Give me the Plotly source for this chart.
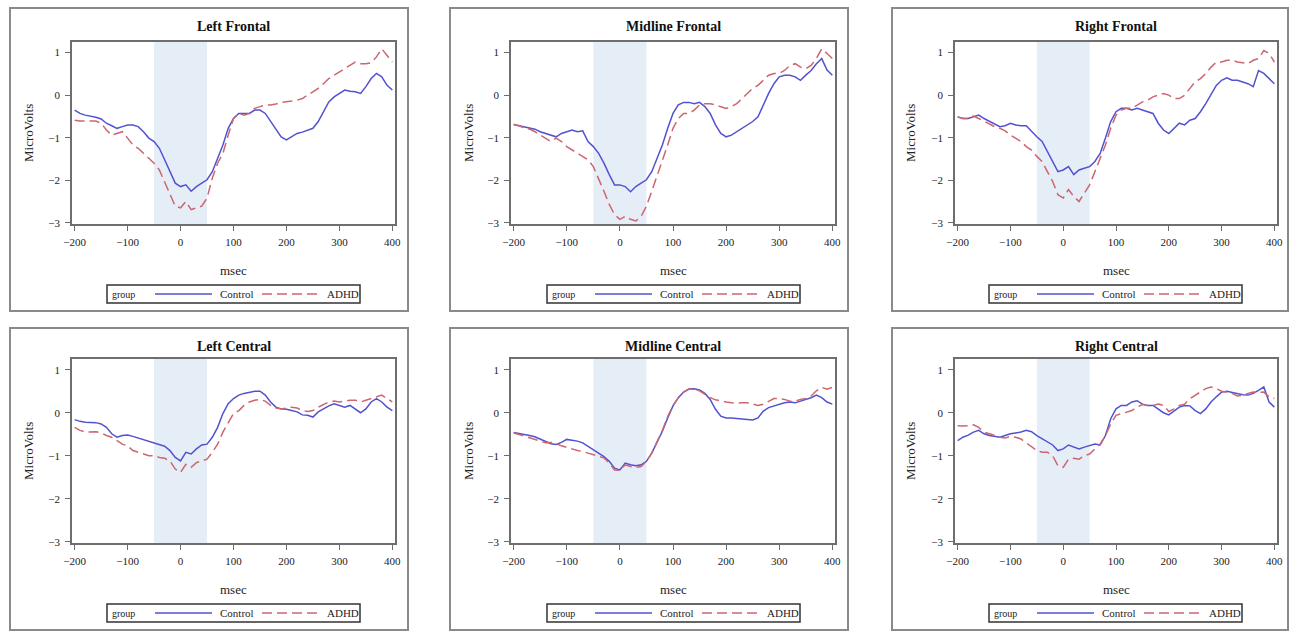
import plotly.graph_objects as go

W, H = 1299, 634

msec = list(range(-200, 401, 10))

left_frontal_control = [-0.35, -0.43, -0.47, -0.49, -0.52, -0.56, -0.66, -0.72, -0.78, -0.74, -0.70, -0.70, -0.74, -0.86, -1.01, -1.09, -1.25, -1.52, -1.80, -2.07, -2.15, -2.11, -2.26, -2.15, -2.07, -1.99, -1.80, -1.48, -1.17, -0.78, -0.55, -0.43, -0.43, -0.43, -0.35, -0.35, -0.43, -0.62, -0.82, -0.98, -1.05, -0.98, -0.90, -0.87, -0.82, -0.78, -0.62, -0.39, -0.16, -0.04, 0.04, 0.12, 0.09, 0.08, 0.04, 0.20, 0.39, 0.51, 0.43, 0.23, 0.12]
left_frontal_adhd = [-0.59, -0.61, -0.61, -0.61, -0.61, -0.66, -0.82, -0.94, -0.90, -0.86, -1.01, -1.17, -1.25, -1.37, -1.48, -1.60, -1.76, -2.03, -2.34, -2.61, -2.65, -2.50, -2.69, -2.65, -2.61, -2.42, -1.95, -1.60, -1.37, -0.94, -0.55, -0.43, -0.47, -0.43, -0.31, -0.27, -0.23, -0.23, -0.21, -0.17, -0.16, -0.14, -0.12, -0.08, 0.00, 0.08, 0.16, 0.27, 0.39, 0.47, 0.55, 0.62, 0.70, 0.78, 0.74, 0.74, 0.76, 0.90, 1.09, 0.94, 0.78]

midline_frontal_control = [-0.69, -0.72, -0.74, -0.77, -0.80, -0.86, -0.90, -0.94, -0.98, -0.90, -0.86, -0.82, -0.86, -0.84, -1.09, -1.21, -1.37, -1.60, -1.87, -2.11, -2.11, -2.15, -2.27, -2.15, -2.07, -1.99, -1.80, -1.48, -1.17, -0.78, -0.43, -0.23, -0.17, -0.17, -0.20, -0.17, -0.27, -0.43, -0.70, -0.90, -0.98, -0.94, -0.86, -0.78, -0.70, -0.62, -0.51, -0.23, 0.04, 0.27, 0.43, 0.47, 0.47, 0.43, 0.35, 0.47, 0.58, 0.74, 0.86, 0.59, 0.47]
midline_frontal_adhd = [-0.69, -0.72, -0.77, -0.80, -0.86, -0.94, -1.01, -1.09, -1.01, -1.09, -1.21, -1.29, -1.37, -1.44, -1.52, -1.68, -1.95, -2.26, -2.57, -2.81, -2.92, -2.85, -2.92, -2.96, -2.85, -2.61, -2.26, -1.91, -1.56, -1.17, -0.78, -0.55, -0.43, -0.43, -0.35, -0.23, -0.20, -0.20, -0.23, -0.27, -0.31, -0.27, -0.20, -0.08, 0.04, 0.16, 0.23, 0.35, 0.47, 0.51, 0.51, 0.58, 0.70, 0.74, 0.66, 0.62, 0.70, 0.86, 1.09, 0.98, 0.86]

right_frontal_control = [-0.51, -0.55, -0.55, -0.51, -0.47, -0.55, -0.62, -0.69, -0.74, -0.72, -0.66, -0.70, -0.72, -0.72, -0.86, -0.98, -1.09, -1.33, -1.56, -1.80, -1.76, -1.68, -1.87, -1.76, -1.72, -1.68, -1.56, -1.37, -1.01, -0.62, -0.39, -0.31, -0.31, -0.35, -0.31, -0.35, -0.39, -0.43, -0.66, -0.82, -0.90, -0.78, -0.66, -0.70, -0.59, -0.55, -0.39, -0.20, 0.00, 0.23, 0.35, 0.41, 0.35, 0.35, 0.31, 0.27, 0.20, 0.58, 0.51, 0.39, 0.27]
right_frontal_adhd = [-0.51, -0.55, -0.55, -0.49, -0.55, -0.62, -0.69, -0.74, -0.78, -0.84, -0.94, -1.01, -1.09, -1.21, -1.29, -1.44, -1.56, -1.80, -2.03, -2.34, -2.42, -2.22, -2.38, -2.50, -2.30, -2.11, -1.80, -1.48, -1.17, -0.78, -0.47, -0.35, -0.31, -0.31, -0.23, -0.16, -0.12, -0.04, 0.00, 0.04, 0.00, -0.08, -0.08, 0.00, 0.16, 0.31, 0.39, 0.51, 0.66, 0.78, 0.78, 0.82, 0.82, 0.78, 0.76, 0.74, 0.82, 0.86, 1.05, 0.98, 0.78]

left_central_control = [-0.16, -0.20, -0.22, -0.23, -0.23, -0.26, -0.34, -0.49, -0.57, -0.53, -0.52, -0.55, -0.59, -0.63, -0.67, -0.70, -0.75, -0.78, -0.88, -1.04, -1.12, -0.92, -0.96, -0.84, -0.75, -0.73, -0.57, -0.34, -0.02, 0.21, 0.33, 0.41, 0.45, 0.48, 0.50, 0.50, 0.41, 0.25, 0.13, 0.09, 0.08, 0.05, 0.02, -0.05, -0.06, -0.10, 0.02, 0.09, 0.16, 0.21, 0.17, 0.13, 0.17, 0.09, 0.00, 0.09, 0.25, 0.33, 0.25, 0.13, 0.05]
left_central_adhd = [-0.34, -0.41, -0.45, -0.45, -0.44, -0.47, -0.53, -0.57, -0.65, -0.73, -0.77, -0.88, -0.92, -0.96, -1.00, -1.00, -1.04, -1.06, -1.12, -1.31, -1.39, -1.20, -1.27, -1.16, -1.12, -1.08, -0.92, -0.73, -0.45, -0.22, -0.02, 0.05, 0.17, 0.25, 0.29, 0.31, 0.27, 0.17, 0.11, 0.09, 0.11, 0.13, 0.11, 0.05, 0.03, 0.05, 0.13, 0.19, 0.25, 0.27, 0.25, 0.27, 0.29, 0.29, 0.25, 0.29, 0.33, 0.37, 0.41, 0.33, 0.25]

midline_central_control = [-0.46, -0.48, -0.50, -0.53, -0.56, -0.61, -0.66, -0.72, -0.74, -0.69, -0.62, -0.64, -0.66, -0.70, -0.78, -0.86, -0.94, -1.02, -1.13, -1.29, -1.33, -1.17, -1.21, -1.23, -1.21, -1.13, -0.94, -0.70, -0.43, -0.12, 0.16, 0.35, 0.48, 0.55, 0.56, 0.53, 0.45, 0.31, 0.08, -0.08, -0.12, -0.12, -0.13, -0.14, -0.16, -0.17, -0.12, 0.04, 0.12, 0.16, 0.20, 0.23, 0.25, 0.23, 0.27, 0.31, 0.35, 0.41, 0.35, 0.25, 0.20]
midline_central_adhd = [-0.47, -0.50, -0.54, -0.58, -0.62, -0.66, -0.70, -0.69, -0.72, -0.77, -0.80, -0.84, -0.88, -0.90, -0.94, -0.98, -1.02, -1.05, -1.17, -1.33, -1.34, -1.21, -1.25, -1.27, -1.25, -1.13, -0.94, -0.69, -0.41, -0.09, 0.16, 0.35, 0.48, 0.55, 0.55, 0.51, 0.43, 0.35, 0.30, 0.27, 0.25, 0.23, 0.22, 0.23, 0.23, 0.20, 0.17, 0.20, 0.27, 0.33, 0.33, 0.31, 0.27, 0.27, 0.31, 0.33, 0.39, 0.51, 0.59, 0.55, 0.59]

right_central_control = [-0.65, -0.57, -0.52, -0.45, -0.41, -0.49, -0.53, -0.55, -0.57, -0.53, -0.49, -0.47, -0.45, -0.41, -0.44, -0.53, -0.61, -0.67, -0.75, -0.88, -0.84, -0.75, -0.80, -0.84, -0.80, -0.77, -0.73, -0.75, -0.53, -0.14, 0.09, 0.17, 0.17, 0.25, 0.28, 0.20, 0.17, 0.17, 0.09, 0.00, -0.05, 0.05, 0.13, 0.17, 0.16, 0.05, -0.02, 0.09, 0.25, 0.37, 0.48, 0.50, 0.47, 0.45, 0.42, 0.41, 0.45, 0.52, 0.60, 0.25, 0.13]
right_central_adhd = [-0.30, -0.31, -0.30, -0.28, -0.34, -0.45, -0.49, -0.53, -0.57, -0.59, -0.55, -0.57, -0.61, -0.70, -0.80, -0.88, -0.92, -0.92, -1.00, -1.23, -1.27, -1.08, -1.06, -1.08, -1.00, -0.96, -0.84, -0.73, -0.53, -0.26, -0.06, -0.02, 0.02, 0.05, 0.13, 0.19, 0.17, 0.17, 0.20, 0.17, 0.03, 0.09, 0.17, 0.20, 0.33, 0.41, 0.47, 0.56, 0.60, 0.56, 0.50, 0.47, 0.45, 0.39, 0.41, 0.45, 0.48, 0.47, 0.48, 0.37, 0.33]

panel_titles = ["Left Frontal", "Midline Frontal", "Right Frontal",
                "Left Central", "Midline Central", "Right Central"]
control_series = [left_frontal_control, midline_frontal_control, right_frontal_control,
                  left_central_control, midline_central_control, right_central_control]
adhd_series = [left_frontal_adhd, midline_frontal_adhd, right_frontal_adhd,
               left_central_adhd, midline_central_adhd, right_central_adhd]
group_names = ["Control", "ADHD"]
y_ticks = [-3, -2, -1, 0, 1]
x_ticks = [-200, -100, 0, 100, 200, 300, 400]
shade_window = [-50, 50]

# ---- layout geometry (pixels) ----
col_box = [(10, 408), (450, 848), (892, 1288)]
col_plot = [(72, 395), (511, 835), (955, 1277)]
col_ytitle = [28, 468, 910]
col_legend = [(107, 360), (547, 800), (989, 1242)]
row_box = [(8, 311), (328, 630)]
row_plot = [(42, 224), (359, 543)]
row_title = [27, 346]
row_xtitle = [270, 589]
row_legend = [(285, 303), (604, 622)]

FONT = "Liberation Serif"
BLUE = "#5252d0"
RED = "#cc6670"
SHADE = "#e5edf7"


def px(x):
    return x / W


def py(y):
    return 1 - y / H


fig = go.Figure()
shapes = []
annotations = []

for i in range(6):
    r, c = divmod(i, 3)
    k = "" if i == 0 else str(i + 1)
    xa, ya = "x" + k, "y" + k
    fig.add_trace(go.Scatter(x=msec, y=control_series[i], mode="lines", name=group_names[0],
                             line=dict(color=BLUE, width=1.5), xaxis=xa, yaxis=ya, showlegend=False))
    fig.add_trace(go.Scatter(x=msec, y=adhd_series[i], mode="lines", name=group_names[1],
                             line=dict(color=RED, width=1.5, dash="10px,5px"), xaxis=xa, yaxis=ya,
                             showlegend=False))
    x0, x1 = col_plot[c]
    y0, y1 = row_plot[r]
    axis_common = dict(showgrid=False, zeroline=False, showline=True, linecolor="#6e6e6e",
                       linewidth=1.5, mirror=True, ticks="outside", ticklen=5, tickwidth=1,
                       tickcolor="#6e6e6e", automargin=False,
                       tickfont=dict(family=FONT, size=11, color="#222"))
    fig.layout["xaxis" + k] = dict(axis_common, domain=[px(x0), px(x1)], anchor=ya,
                                   range=[-205, 405], tickvals=x_ticks, ticklabelstandoff=2)
    fig.layout["yaxis" + k] = dict(axis_common, domain=[py(y1), py(y0)], anchor=xa,
                                   range=[-3.03, 1.25], tickvals=y_ticks, ticklabelstandoff=3)
    # shaded window
    shapes.append(dict(type="rect", xref=xa, yref=ya + " domain", x0=shade_window[0],
                       x1=shade_window[1], y0=0, y1=1, fillcolor=SHADE, line_width=0,
                       layer="below"))
    # panel box
    bx0, bx1 = col_box[c]
    by0, by1 = row_box[r]
    shapes.append(dict(type="rect", xref="paper", yref="paper", x0=px(bx0), x1=px(bx1),
                       y0=py(by1), y1=py(by0), line=dict(color="#8a8a8a", width=2)))
    # titles
    annotations.append(dict(text="<b>%s</b>" % panel_titles[i], xref="paper", yref="paper",
                            x=px((x0 + x1) / 2), y=py(row_title[r]), showarrow=False,
                            font=dict(family=FONT, size=14, color="#111"),
                            xanchor="center", yanchor="middle"))
    annotations.append(dict(text="MicroVolts", xref="paper", yref="paper",
                            x=px(col_ytitle[c]), y=py((y0 + y1) / 2), showarrow=False,
                            textangle=-90, font=dict(family=FONT, size=13, color="#222"),
                            xanchor="center", yanchor="middle"))
    annotations.append(dict(text="msec", xref="paper", yref="paper",
                            x=px((x0 + x1) / 2), y=py(row_xtitle[r]), showarrow=False,
                            font=dict(family=FONT, size=13, color="#222"),
                            xanchor="center", yanchor="middle"))
    # legend
    lx0, lx1 = col_legend[c]
    ly0, ly1 = row_legend[r]
    lyc = (ly0 + ly1) / 2
    shapes.append(dict(type="rect", xref="paper", yref="paper", x0=px(lx0), x1=px(lx1),
                       y0=py(ly1), y1=py(ly0), line=dict(color="#333", width=1.5)))
    annotations.append(dict(text="group", xref="paper", yref="paper", x=px(lx0 + 3),
                            y=py(lyc), showarrow=False, xanchor="left", yanchor="middle",
                            font=dict(family=FONT, size=10, color="#222")))
    shapes.append(dict(type="line", xref="paper", yref="paper", x0=px(lx0 + 48),
                       x1=px(lx0 + 105), y0=py(lyc), y1=py(lyc),
                       line=dict(color=BLUE, width=1.5)))
    annotations.append(dict(text=group_names[0], xref="paper", yref="paper", x=px(lx0 + 111),
                            y=py(lyc), showarrow=False, xanchor="left", yanchor="middle",
                            font=dict(family=FONT, size=11, color="#222")))
    shapes.append(dict(type="line", xref="paper", yref="paper", x0=px(lx0 + 155),
                       x1=px(lx0 + 215), y0=py(lyc), y1=py(lyc),
                       line=dict(color=RED, width=1.5, dash="10px,5px")))
    annotations.append(dict(text=group_names[1], xref="paper", yref="paper", x=px(lx0 + 218),
                            y=py(lyc), showarrow=False, xanchor="left", yanchor="middle",
                            font=dict(family=FONT, size=11, color="#222")))

fig.update_layout(width=W, height=H, margin=dict(l=0, r=0, t=0, b=0),
                  paper_bgcolor="white", plot_bgcolor="white",
                  shapes=shapes, annotations=annotations, showlegend=False)

fig.write_html("out.html")
